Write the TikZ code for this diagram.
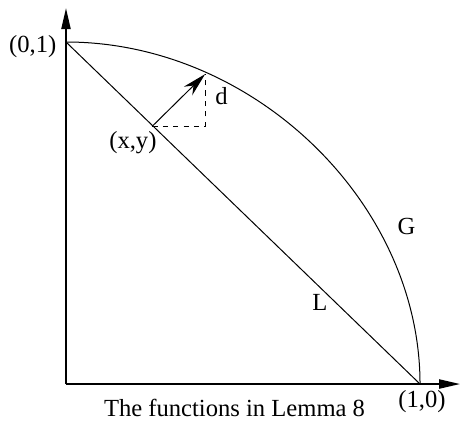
\documentclass[tikz,border=0pt]{standalone}
\usepackage{fontspec}
\setmainfont{Liberation Serif}
\usetikzlibrary{arrows.meta}
\begin{document}
\begin{tikzpicture}[x=177pt, y=171pt, line width=0.5pt,
    font=\fontsize{12.3}{14}\selectfont,
    axis/.style={line width=0.8pt, -{Triangle[length=10.5pt, width=4.6pt]}},
    vec/.style={-{Stealth[length=12pt, width=6pt]}},
    guide/.style={dash pattern=on 2.6pt off 2.6pt},
    lbl/.style={inner sep=0pt}]
  \useasboundingbox (-0.1864,-0.1053) rectangle (1.1186,1.1228);
  \coordinate (O) at (0,0);
  \coordinate (P01) at (0,1);
  \coordinate (P10) at (1,0);
  \coordinate (XY) at (0.244,0.754);
  \coordinate (T) at (0.393,0.906);
  \coordinate (C) at (0.393,0.754);
  \coordinate (xend) at (1.113,0);
  \coordinate (yend) at (0,1.099);
  % axes
  \draw[axis] (O) -- (xend);
  \draw[axis] (O) -- (yend);
  % the line L and the curve G
  \draw (P01) -- (P10);
  \draw (P01) .. controls (0.53,1) and (1,0.53) .. (P10);
  % displacement
  \draw[vec] (XY) -- (T);
  \draw[guide] (XY) -- (C) -- (T);
  % labels
  \node[lbl, anchor=base east] (l01) at (-0.026,0.969) {(0,1)};
  \node[lbl, anchor=base] (l10) at (1.0056,-0.070) {(1,0)};
  \node[lbl, anchor=base east] (lxy) at (0.257,0.688) {(x,y)};
  \node[lbl, anchor=base] (ld) at (0.439,0.816) {d};
  \node[lbl, anchor=base] (lG) at (0.962,0.436) {G};
  \node[lbl, anchor=base] (lL) at (0.7175,0.216) {L};
  \node[lbl, anchor=base] (cap) at (0.476,-0.096) {The functions in Lemma 8};
\end{tikzpicture}
\end{document}
